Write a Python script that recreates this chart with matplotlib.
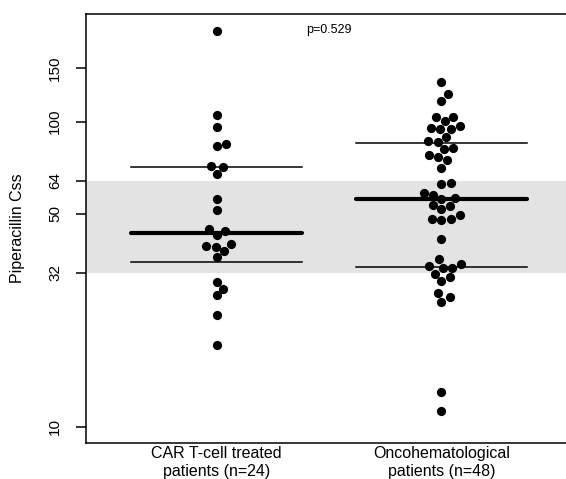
import numpy as np
import matplotlib
matplotlib.use('Agg')
import matplotlib.pyplot as plt

plt.rcParams['font.family'] = ['Liberation Sans', 'DejaVu Sans']

groups = ['CAR T-cell treated\npatients (n=24)', 'Oncohematological\npatients (n=48)']

car_t = [198.8, 105.2, 96.3, 84.3, 83.4, 71.6, 71.2, 67.4, 55.7, 51.3, 44.4, 43.8,
         42.5, 39.7, 39.2, 38.9, 37.7, 36.1, 29.9, 28.4, 27.0, 23.2, 18.5]
onco = [135.2, 123.0, 116.9, 103.8, 103.8, 100.8, 96.8, 95.6, 94.6, 94.6, 89.3, 86.4,
        86.0, 81.8, 81.4, 77.8, 76.8, 74.9, 70.7, 63.1, 62.5, 58.3, 57.5, 56.3, 55.7,
        53.3, 53.0, 51.6, 49.4, 48.0, 47.9, 47.6, 41.3, 35.4, 34.2, 33.6, 33.2, 33.2,
        31.8, 30.9, 30.1, 27.5, 26.7, 25.7, 12.97, 11.26]

medians = [43.1, 55.8]
lower_q = [34.6, 33.5]
upper_q = [71.2, 85.3]

target_low, target_high = 32, 64
yticks = [10, 32, 50, 64, 100, 150]
p_text = 'p=0.529'

fig = plt.figure(figsize=(5.66, 4.79), dpi=100)
ax = fig.add_axes([86 / 566, 36.3 / 479, 486 / 566, 428.7 / 479])
ax.set_yscale('log')
ax.set_xlim(0.42, 2.58)
ax.set_ylim(10 ** (1 - 0.04 * np.log10(20)), 10 ** (np.log10(200) + 0.04 * np.log10(20)))

ax.axhspan(target_low, target_high, color='#e3e3e3', lw=0, zorder=0)


def swarm_offsets(values, d=9.5):
    # simple swarm layout in pixel space, lowest values placed first
    ys = ax.transData.transform(np.column_stack([np.ones(len(values)), values]))[:, 1]
    xs = np.zeros(len(values))
    placed = []
    for i in np.argsort(ys):
        y = ys[i]
        near = [(px, py) for px, py in placed if abs(py - y) < d]
        cands = [0.0]
        for px, py in near:
            off = np.sqrt(d * d - (py - y) ** 2)
            cands += [px - off, px + off]
        ok = [c for c in cands
              if all((c - px) ** 2 + (y - py) ** 2 >= d * d - 1e-6 for px, py in near)]
        best = min(ok, key=lambda c: (abs(c), -c))
        xs[i] = best
        placed.append((best, y))
    px_per_unit = ax.transData.transform((1, 1))[0] - ax.transData.transform((0, 1))[0]
    return xs / px_per_unit


for i, vals in enumerate([car_t, onco]):
    pos = i + 1
    x = pos + swarm_offsets(vals)
    ax.scatter(x, vals, s=44, color='black', lw=0, zorder=3)
    ax.plot([pos - 0.38, pos + 0.38], [medians[i]] * 2, color='black', lw=3,
            solid_capstyle='round', zorder=4)
    ax.plot([pos - 0.38, pos + 0.38], [lower_q[i]] * 2, color='black', lw=1.1, zorder=4)
    ax.plot([pos - 0.38, pos + 0.38], [upper_q[i]] * 2, color='black', lw=1.1, zorder=4)

ax.text(1.5, 200, p_text, ha='center', va='center', fontsize=9)

ax.set_yticks(yticks)
ax.set_yticklabels([str(t) for t in yticks], rotation=90, va='center', fontsize=11)
ax.yaxis.set_minor_locator(matplotlib.ticker.NullLocator())
ax.tick_params(axis='y', length=7.2, width=1.1, pad=10)
ax.set_xticks([1, 2])
ax.set_xticklabels(groups, fontsize=11.5, linespacing=1.2)
ax.tick_params(axis='x', length=0, pad=2.5)

for side in ['left', 'top', 'bottom', 'right']:
    ax.spines[side].set_linewidth(1.1)

fig.text(18 / 566, 1 - 228 / 479, 'Piperacillin Css', rotation=90, ha='center',
         va='center', fontsize=11.5)

fig.savefig('out.png', dpi=100)
